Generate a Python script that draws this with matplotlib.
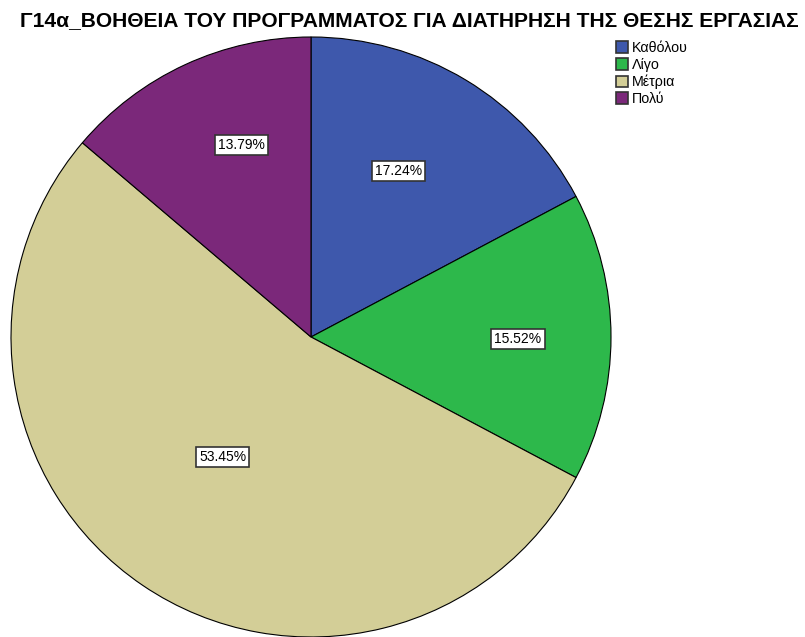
import matplotlib
matplotlib.use("Agg")
import matplotlib.pyplot as plt
import numpy as np

categories = ["Καθόλου", "Λίγο", "Μέτρια", "Πολύ"]
percentages = [17.24, 15.52, 53.45, 13.79]
colors = ["#3E58AC", "#2DB84B", "#D3CE97", "#7B287A"]
title = "Γ14α_ΒΟΗΘΕΙΑ ΤΟΥ ΠΡΟΓΡΑΜΜΑΤΟΣ ΓΙΑ ΔΙΑΤΗΡΗΣΗ ΤΗΣ ΘΕΣΗΣ ΕΡΓΑΣΙΑΣ"

fig = plt.figure(figsize=(8.05, 6.37), dpi=100)
ax = fig.add_axes([11 / 805, 0.0, 600 / 805, 600 / 637])
wedges, _ = ax.pie(percentages, colors=colors, startangle=90, counterclock=False,
                   wedgeprops=dict(edgecolor="black", linewidth=0.8))
ax.set_xlim(-1, 1)
ax.set_ylim(-1, 1)
ax.set_aspect("equal")

# placement of each percentage box: radial fraction and angular nudge (degrees)
label_r = [0.625, 0.69, 0.496, 0.681]
label_nudge = [3.3, -0.5, -2.2, -4.8]
for w, p, r, d in zip(wedges, percentages, label_r, label_nudge):
    ang = np.deg2rad((w.theta1 + w.theta2) / 2 + d)
    ax.text(r * np.cos(ang), r * np.sin(ang), f"{p:.2f}%", ha="center", va="center",
            fontsize=10, family="Liberation Sans",
            bbox=dict(boxstyle="square,pad=0.22", fc="white", ec="#333333", lw=1.2))

fig.text(0.509, 0.967, title, ha="center", va="center", fontsize=15.1,
         fontweight="bold", family="Liberation Sans")

handles = [plt.Rectangle((0, 0), 1, 1, fc=c, ec="#333333", lw=1.2) for c in colors]
fig.legend(handles, categories, loc="upper left", bbox_to_anchor=(606 / 805, 1 - 31 / 637),
           frameon=False, handlelength=0.85, handleheight=0.85,
           handletextpad=0.25, labelspacing=0.2, borderpad=0.2,
           prop=dict(family="Liberation Sans", size=10.3))

fig.savefig("out.png", dpi=100)
